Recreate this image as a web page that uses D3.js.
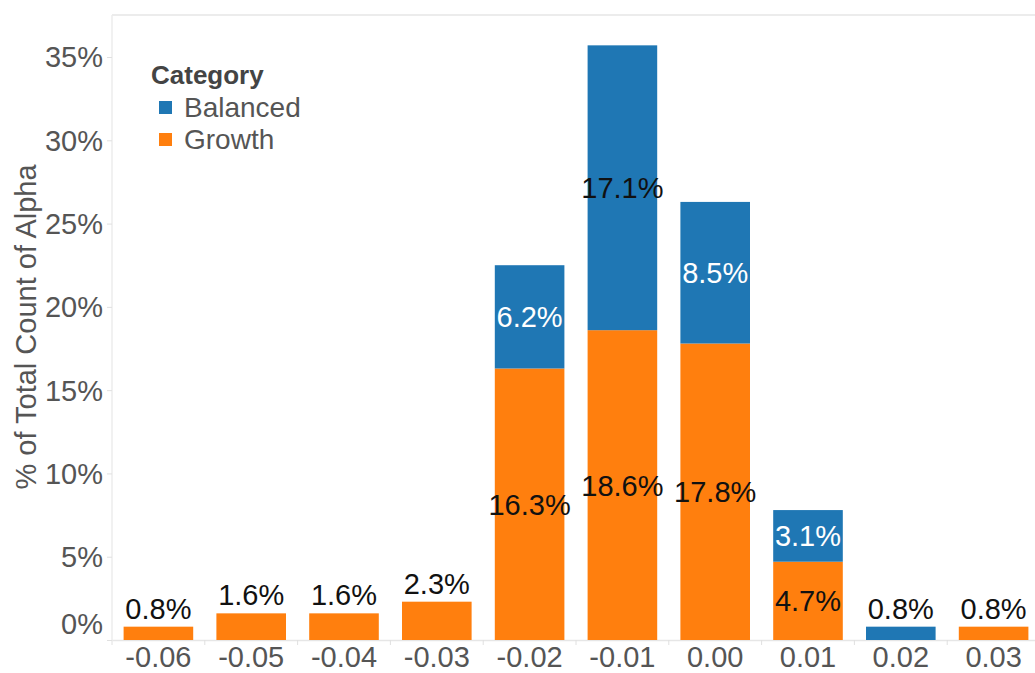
<!DOCTYPE html>
<html>
<head>
<meta charset="utf-8">
<script src="https://cdn.jsdelivr.net/npm/d3@7"></script>
<style>
  body { margin: 0; background: #fff; }
  svg { display: block; font-family: "Liberation Sans", Arial, sans-serif; }
</style>
</head>
<body>
<svg id="chart" width="1035" height="673"></svg>
<script>
// bins of Alpha
const bins = ["-0.06", "-0.05", "-0.04", "-0.03", "-0.02", "-0.01", "0.00", "0.01", "0.02", "0.03"];
const categories = ["Balanced", "Growth"];
// % of total count, per bin
const growth   = [0.8, 1.6, 1.6, 2.3, 16.3, 18.6, 17.8, 4.7, 0, 0.8];
const balanced = [0, 0, 0, 0, 6.2, 17.1, 8.5, 3.1, 0.8, 0];
const yTicks = [0, 5, 10, 15, 20, 25, 30, 35];

const colors = { Balanced: "#1f77b4", Growth: "#ff7f0e" };
// balanced labels drawn dark instead of white
const darkBalancedLabels = new Set(["-0.01"]);

const svg = d3.select("#chart");
const plotLeft = 112, plotTop = 15, plotBottom = 640;

const x = d3.scaleBand()
  .domain(bins)
  .range([plotLeft, 1040])
  .paddingInner(0.25)
  .paddingOuter(0.125);

const y = d3.scaleLinear()
  .domain([0, 35])
  .range([plotBottom, 57]);

// stack growth at the bottom, balanced on top
const rows = bins.map((b, i) => ({ bin: b, Growth: growth[i], Balanced: balanced[i] }));
const stack = d3.stack().keys(["Growth", "Balanced"]);
const series = stack(rows);

// plot frame
svg.append("line")
  .attr("x1", plotLeft).attr("x2", 1035).attr("y1", plotTop).attr("y2", plotTop)
  .attr("stroke", "#ececec").attr("stroke-width", 2);
svg.append("line")
  .attr("x1", plotLeft).attr("x2", plotLeft).attr("y1", plotTop).attr("y2", plotBottom)
  .attr("stroke", "#ececec").attr("stroke-width", 1.5);

// y axis
const yAxis = svg.append("g")
  .attr("transform", `translate(${plotLeft},0)`)
  .call(d3.axisLeft(y).tickValues(yTicks).tickSize(5).tickPadding(4).tickFormat(d => d + "%"));
yAxis.select(".domain").remove();
yAxis.selectAll(".tick line").attr("stroke", "#e0e0e0");
yAxis.selectAll(".tick text")
  .attr("fill", "#555")
  .style("font-size", "29px")
  .attr("dy", d => d === 0 ? "-0.22em" : "0.34em");

// x axis
const xAxis = svg.append("g")
  .attr("transform", `translate(0,${plotBottom})`)
  .call(d3.axisBottom(x).tickSize(0).tickPadding(6));
xAxis.select(".domain").attr("stroke", "#e6e6e6").attr("stroke-width", 1.5);
xAxis.selectAll(".tick text")
  .attr("fill", "#555")
  .style("font-size", "29px")
  .attr("dy", "0.71em");
// small ticks between the bins
xAxis.selectAll(".sep")
  .data(d3.range(bins.length + 1))
  .enter().append("line")
  .attr("x1", i => plotLeft + i * x.step())
  .attr("x2", i => plotLeft + i * x.step())
  .attr("y1", 0).attr("y2", 5)
  .attr("stroke", "#e0e0e0");

// bars
series.forEach(s => {
  svg.append("g")
    .selectAll("rect")
    .data(s.filter(d => d[1] - d[0] > 0))
    .enter()
    .append("rect")
    .attr("x", d => x(d.data.bin))
    .attr("y", d => y(d[1]))
    .attr("width", x.bandwidth())
    .attr("height", d => y(d[0]) - y(d[1]))
    .attr("fill", colors[s.key]);
});

// value labels
series.forEach(s => {
  s.forEach(d => {
    const v = d[1] - d[0];
    if (v <= 0) return;
    const row = d.data;
    const alone = (row.Growth > 0) + (row.Balanced > 0) === 1;
    const cx = x(row.bin) + x.bandwidth() / 2;
    let fill = "#111";
    if (s.key === "Balanced" && !alone && !darkBalancedLabels.has(row.bin)) fill = "#fff";
    const t = svg.append("text")
      .attr("x", cx)
      .attr("text-anchor", "middle")
      .attr("fill", fill)
      .style("font-size", "29px")
      .text(v.toFixed(1) + "%");
    if (alone) {
      t.attr("y", y(d[1]) - 8);
    } else {
      t.attr("y", (y(d[0]) + y(d[1])) / 2).attr("dy", "0.36em");
    }
  });
});

// y axis title
svg.append("text")
  .attr("transform", "translate(36,327) rotate(-90)")
  .attr("text-anchor", "middle")
  .attr("fill", "#555")
  .style("font-size", "29px")
  .text("% of Total Count of Alpha");

// legend
const legend = svg.append("g");
legend.append("text")
  .attr("x", 151).attr("y", 84)
  .attr("fill", "#444")
  .style("font-size", "26px")
  .style("font-weight", "bold")
  .text("Category");
categories.forEach((c, i) => {
  legend.append("rect")
    .attr("x", 159).attr("y", 101 + i * 32)
    .attr("width", 13).attr("height", 13)
    .attr("fill", colors[c]);
  legend.append("text")
    .attr("x", 184).attr("y", 107 + i * 32)
    .attr("dy", "0.36em")
    .attr("fill", "#555")
    .style("font-size", "28px")
    .text(c);
});
</script>
</body>
</html>
